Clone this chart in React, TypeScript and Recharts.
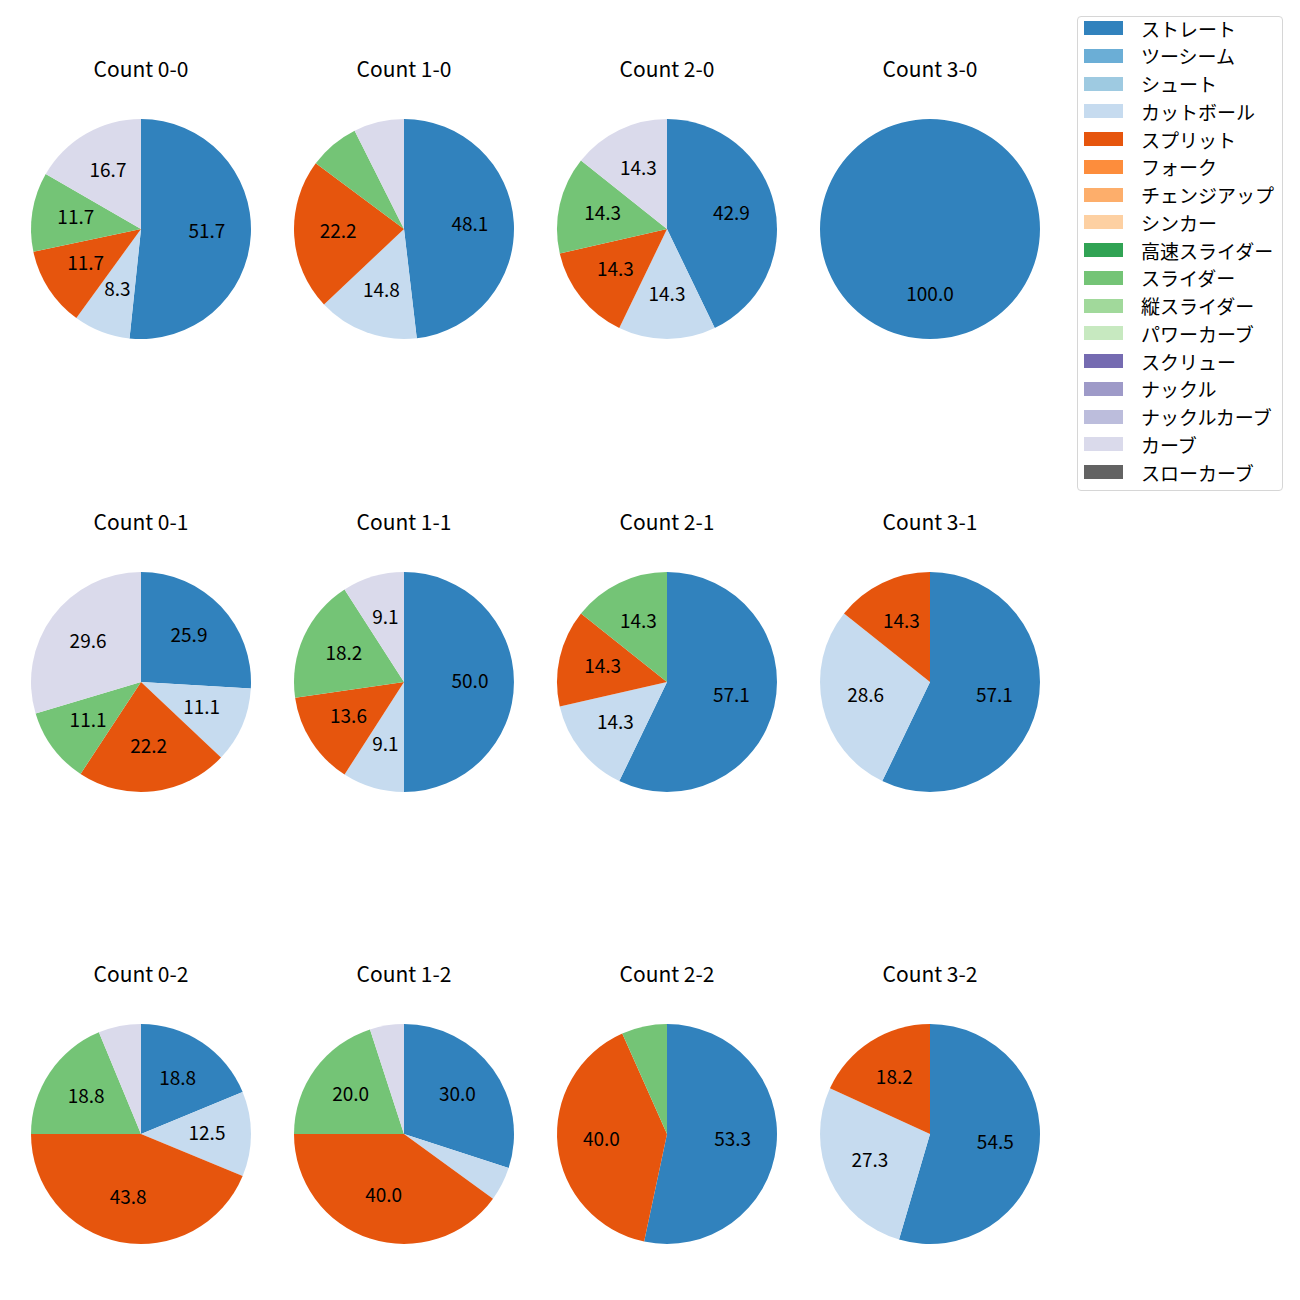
import { PieChart, Pie, Cell } from "recharts";

// tab20c-style palette, one colour per pitch type (legend order)
const PITCH_TYPES = [
  "ストレート", "ツーシーム", "シュート", "カットボール",
  "スプリット", "フォーク", "チェンジアップ", "シンカー",
  "高速スライダー", "スライダー", "縦スライダー", "パワーカーブ",
  "スクリュー", "ナックル", "ナックルカーブ", "カーブ", "スローカーブ",
];
const PITCH_COLORS = [
  "#3182bd", "#6baed6", "#9ecae1", "#c6dbef",
  "#e6550d", "#fd8d3c", "#fdae6b", "#fdd0a2",
  "#31a354", "#74c476", "#a1d99b", "#c7e9c0",
  "#756bb1", "#9e9ac8", "#bcbddc", "#dadaeb", "#636363",
];

const COUNTS = ["0-0", "1-0", "2-0", "3-0", "0-1", "1-1", "2-1", "3-1", "0-2", "1-2", "2-2", "3-2"];

// pitches thrown per count (same order as COUNTS)
const STRAIGHT = [31, 13, 3, 1, 7, 11, 4, 4, 3, 6, 8, 6];
const CUTTER = [5, 4, 1, 0, 3, 2, 1, 2, 2, 1, 0, 3];
const SPLIT = [7, 6, 1, 0, 6, 3, 1, 1, 7, 8, 6, 2];
const SLIDER = [7, 2, 1, 0, 3, 4, 1, 0, 3, 4, 1, 0];
const CURVE = [10, 2, 1, 0, 8, 2, 0, 0, 1, 1, 0, 0];

const SERIES: Record<string, number[]> = {
  "ストレート": STRAIGHT,
  "カットボール": CUTTER,
  "スプリット": SPLIT,
  "スライダー": SLIDER,
  "カーブ": CURVE,
};

const FONT = "'Noto Sans CJK JP', 'Noto Sans', sans-serif";
const RADIAN = Math.PI / 180;
const R = 110;
const COL_X = [141, 404, 667, 930];
const ROW_Y = [229, 682, 1134];

function dataFor(i: number) {
  return PITCH_TYPES.map((name, k) => ({
    name,
    value: SERIES[name] ? SERIES[name][i] : 0,
    color: PITCH_COLORS[k],
  })).filter((d) => d.value > 0);
}

const renderLabel = (props: any) => {
  const { cx, cy, midAngle, outerRadius, percent } = props;
  if (percent < 0.08) return null;
  const r = outerRadius * 0.6;
  const x = cx + r * Math.cos(-midAngle * RADIAN);
  const y = cy + r * Math.sin(-midAngle * RADIAN);
  return (
    <text x={x} y={y - 3} textAnchor="middle" dominantBaseline="central" fill="#000" fontSize={19} fontFamily={FONT}>
      {(percent * 100).toFixed(1)}
    </text>
  );
};

function CountPie({ index }: { index: number }) {
  const cx = COL_X[index % 4];
  const cy = ROW_Y[Math.floor(index / 4)];
  const data = dataFor(index);
  return (
    <>
      <div
        style={{
          position: "absolute",
          left: cx - 130,
          top: cy - 160 - 13,
          width: 260,
          textAlign: "center",
          fontSize: 21,
          lineHeight: "24px",
          fontFamily: FONT,
          color: "#000",
        }}
      >
        Count {COUNTS[index]}
      </div>
      <div style={{ position: "absolute", left: cx - 130, top: cy - 130 }}>
        <PieChart width={260} height={260} margin={{ top: 0, right: 0, bottom: 0, left: 0 }}>
          <Pie
            data={data}
            dataKey="value"
            nameKey="name"
            cx={130}
            cy={130}
            outerRadius={R}
            startAngle={90}
            endAngle={-270}
            stroke="none"
            labelLine={false}
            label={renderLabel}
            isAnimationActive={false}
          >
            {data.map((d, k) => (
              <Cell key={k} fill={d.color} />
            ))}
          </Pie>
        </PieChart>
      </div>
    </>
  );
}

export default function App() {
  return (
    <div style={{ position: "absolute", left: 0, top: 0, width: 1300, height: 1300, background: "#fff" }}>
      {COUNTS.map((_, i) => (
        <CountPie key={i} index={i} />
      ))}
      <div
        style={{
          position: "absolute",
          left: 1077,
          top: 16,
          width: 204,
          height: 473,
          border: "1px solid #d6d6d6",
          borderRadius: 4,
          fontFamily: FONT,
          fontSize: 19,
          color: "#000",
        }}
      >
        {PITCH_TYPES.map((name, k) => (
          <div
            key={name}
            style={{ position: "absolute", left: 0, top: -3 + k * 27.75, height: 28, width: 204, display: "flex", alignItems: "center" }}
          >
            <div style={{ width: 39, height: 14, marginLeft: 6, background: PITCH_COLORS[k] }} />
            <span style={{ marginLeft: 18, whiteSpace: "nowrap" }}>{name}</span>
          </div>
        ))}
      </div>
    </div>
  );
}
